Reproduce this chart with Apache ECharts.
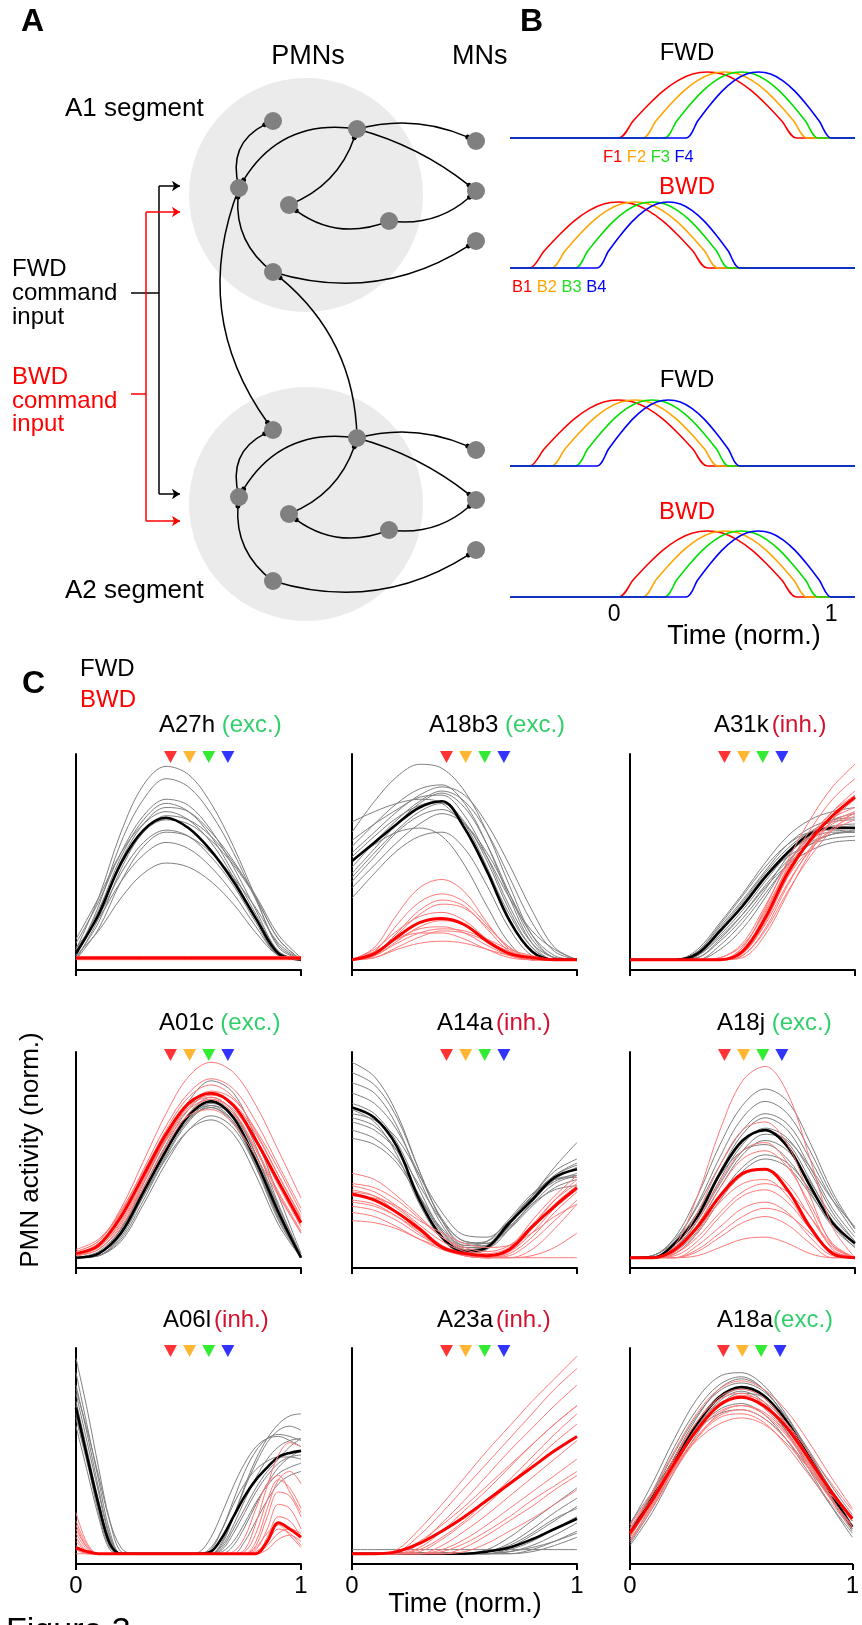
<!DOCTYPE html>
<html>
<head>
<meta charset="utf-8">
<title>Figure 3</title>
<script src="https://cdn.jsdelivr.net/npm/echarts@6/dist/echarts.min.js"></script>
<style>
  html, body { margin: 0; padding: 0; background: #fff; }
  #fig { width: 862px; height: 1625px; }
</style>
</head>
<body>
<div id="fig"></div>
<script>
// ---------- Panel A: circuit schematic (canvas pixel units) ----------
const segmentCentres = [[306, 195], [306, 504]];
const circuitNodes = [
  // A1 segment: PMNs p1..p6, then MNs m1..m3
  [273, 121], [357, 129], [239, 188], [289, 205], [389, 221], [273, 272], [476, 141], [476, 191], [476, 241],
  // A2 segment
  [273, 430], [357, 438], [239, 497], [289, 514], [389, 530], [273, 581], [476, 450], [476, 500], [476, 550]
];
// [source, target, curveness]
const circuitLinks = [
  [2, 0, 0.45], [1, 2, -0.35], [3, 1, -0.25], [4, 3, 0.3], [5, 2, 0.3], [1, 6, 0.19], [1, 7, 0.11], [4, 7, -0.25], [5, 8, -0.24],
  [11, 9, 0.45], [10, 11, -0.35], [12, 10, -0.25], [13, 12, 0.3], [14, 11, 0.3], [10, 15, 0.19], [10, 16, 0.11], [13, 16, -0.25], [14, 17, -0.24],
  [2, 9, -0.28], [10, 5, -0.24]
];
const fwdCommandPath = [[180, 186], [159, 186], [159, 494], [180, 494]];
const fwdCommandTap = [[131, 293], [159, 293]];
const bwdCommandPath = [[180, 212], [146, 212], [146, 521], [180, 521]];
const bwdCommandTap = [[131, 394], [146, 394]];

// ---------- Panel B: segmental activation waves ----------
const waveColors = ['#ff0000', '#ffa500', '#00e000', '#0000ff'];
const fwdOnset = [0.02, 0.13, 0.23, 0.33];
const fwdOffset = [0.84, 0.89, 0.94, 1.00];
const bwdOnset = [-0.39, -0.29, -0.18, -0.08];
const bwdOffset = [0.43, 0.48, 0.53, 0.58];
const bumpProfile = [0, 0.26, 0.5, 0.71, 0.87, 0.97, 1, 0.97, 0.87, 0.71, 0.5, 0.26, 0];
const waveTimeRange = [-0.48, 1.11];

// ---------- Panel C: PMN activity traces ----------
const timeCoarse = [0, 0.1, 0.2, 0.3, 0.4, 0.5, 0.6, 0.7, 0.8, 0.9, 1];
const timeFine = [0, 0.05, 0.1, 0.15, 0.2, 0.25, 0.3, 0.35, 0.4, 0.45, 0.5, 0.55, 0.6, 0.65, 0.7, 0.75, 0.8, 0.85, 0.9, 0.95, 1];
const panelNames = ['A27h', 'A18b3', 'A31k', 'A01c', 'A14a', 'A18j', 'A06l', 'A23a', 'A18a'];
const panelKinds = ['exc.', 'exc.', 'inh.', 'exc.', 'inh.', 'exc.', 'inh.', 'inh.', 'exc.'];
const markerTimes = [0.42, 0.505, 0.59, 0.675];
const markerColors = ['#ff0000', '#ffa500', '#00e600', '#0000ff'];

const a27hFwdMean = [.03, .22, .47, .63, .69, .64, .53, .38, .20, .03, 0];
const a27hFwd = [
  [.05, .30, .62, .85, .94, .90, .76, .55, .30, .06, 0],
  [.02, .26, .57, .78, .88, .84, .71, .52, .29, .07, 0],
  [.08, .28, .52, .70, .78, .75, .63, .45, .24, .04, 0],
  [0, .20, .48, .66, .74, .72, .62, .48, .30, .10, 0],
  [.10, .30, .52, .66, .72, .68, .57, .40, .20, .02, 0],
  [.03, .22, .46, .62, .70, .68, .60, .47, .31, .12, .01],
  [.05, .21, .42, .57, .63, .60, .50, .36, .18, .02, 0],
  [0, .15, .38, .55, .62, .60, .52, .40, .25, .08, 0],
  [.06, .20, .38, .51, .57, .54, .45, .32, .16, .02, 0],
  [.02, .14, .30, .42, .47, .45, .38, .27, .13, .02, 0],
  [.04, .24, .50, .68, .76, .72, .60, .42, .22, .04, 0],
  [.01, .18, .44, .62, .68, .66, .58, .46, .30, .10, 0]
];
const a27hBwdMean = [.008, .008, .008, .008, .008, .008, .008, .008, .008, .008, .008];
const a27hBwd = [
  [0, 0, 0, 0, 0, 0, 0, 0, 0, 0, 0],
  [.016, .016, .016, .016, .016, .016, .016, .016, .016, .016, .016]
];

const a18b3FwdMean = [.48, .57, .66, .74, .77, .64, .43, .19, .04, 0, 0];
const a18b3Fwd = [
  [.62, .77, .89, .95, .93, .82, .62, .36, .12, .01, 0],
  [.55, .66, .76, .83, .85, .76, .56, .30, .08, 0, 0],
  [.45, .57, .68, .77, .82, .77, .62, .40, .18, .04, 0],
  [.67, .72, .76, .78, .76, .64, .44, .22, .06, 0, 0],
  [.40, .52, .63, .72, .76, .67, .48, .24, .06, 0, 0],
  [.50, .60, .69, .75, .77, .66, .45, .20, .04, 0, 0],
  [.35, .46, .57, .66, .71, .66, .52, .32, .12, .02, 0],
  [.30, .42, .53, .60, .62, .54, .36, .15, .02, 0, 0],
  [.48, .56, .62, .64, .60, .46, .26, .08, 0, 0, 0],
  [.58, .66, .73, .79, .80, .70, .50, .26, .08, .01, 0],
  [.42, .54, .66, .76, .81, .74, .56, .32, .10, .01, 0],
  [.38, .50, .62, .70, .73, .66, .50, .30, .14, .05, 0],
  [.52, .62, .72, .80, .84, .80, .66, .46, .24, .06, 0]
];
const a18b3BwdMean = [0, .03, .11, .18, .20, .17, .09, .03, .01, 0, 0];
const a18b3Bwd = [
  [0, .06, .22, .35, .39, .33, .18, .05, 0, 0, 0],
  [0, .04, .17, .28, .32, .28, .17, .06, .01, 0, 0],
  [0, .02, .12, .22, .27, .25, .16, .06, 0, 0, 0],
  [0, .05, .14, .21, .23, .19, .10, .03, 0, 0, 0],
  [0, .02, .09, .16, .19, .17, .10, .03, 0, 0, 0],
  [0, .03, .10, .15, .16, .13, .07, .02, 0, 0, 0],
  [0, .01, .06, .11, .14, .13, .09, .04, .01, 0, 0],
  [0, .04, .10, .13, .13, .10, .05, .01, 0, 0, 0],
  [0, .01, .05, .08, .09, .08, .05, .02, 0, 0, 0],
  [0, .03, .13, .24, .29, .26, .15, .04, 0, 0, 0],
  [0, .02, .08, .13, .15, .14, .10, .05, .02, 0, 0]
];

const a31kFwdMean = [0, 0, 0, .03, .14, .26, .40, .52, .61, .64, .64];
const a31kFwd = [
  [0, 0, 0, .05, .18, .32, .47, .60, .68, .72, .74],
  [0, 0, 0, .04, .16, .29, .43, .56, .64, .68, .69],
  [0, 0, 0, .02, .12, .24, .38, .51, .60, .64, .65],
  [0, 0, 0, .01, .10, .22, .36, .48, .57, .61, .62],
  [0, 0, 0, .03, .15, .28, .42, .54, .62, .65, .66],
  [0, 0, 0, 0, .07, .18, .32, .46, .56, .61, .63],
  [0, 0, 0, .04, .17, .31, .45, .56, .62, .63, .62],
  [0, 0, 0, .02, .11, .22, .35, .46, .53, .57, .58],
  [0, 0, 0, 0, .05, .15, .30, .47, .60, .68, .71],
  [0, 0, 0, .03, .13, .27, .41, .52, .59, .62, .62],
  [0, 0, 0, .02, .14, .27, .40, .50, .56, .59, .60],
  [0, 0, 0, .01, .09, .20, .34, .50, .62, .67, .68]
];
const a31kBwdMean = [0, 0, 0, 0, 0, .04, .20, .42, .58, .70, .79];
const a31kBwd = [
  [0, 0, 0, 0, 0, .06, .25, .48, .68, .84, .95],
  [0, 0, 0, 0, 0, .05, .22, .45, .63, .78, .88],
  [0, 0, 0, 0, 0, .03, .18, .40, .58, .72, .82],
  [0, 0, 0, 0, .01, .08, .26, .46, .60, .69, .74],
  [0, 0, 0, 0, 0, .02, .15, .36, .54, .68, .78],
  [0, 0, 0, 0, 0, .04, .20, .41, .57, .67, .72],
  [0, 0, 0, 0, 0, .01, .12, .32, .52, .68, .80],
  [0, 0, 0, 0, 0, .05, .21, .40, .54, .63, .68],
  [0, 0, 0, 0, 0, .03, .17, .37, .53, .64, .70],
  [0, 0, 0, 0, 0, .06, .24, .44, .60, .72, .80],
  [0, 0, 0, 0, 0, .02, .14, .33, .50, .63, .72],
  [0, 0, 0, 0, .01, .07, .23, .43, .57, .66, .71]
];

const a01cFwdMean = [0, .02, .12, .32, .52, .69, .76, .68, .47, .22, 0];
const a01cFwd = [
  [0, .02, .14, .36, .58, .76, .86, .80, .58, .30, .02],
  [0, .01, .10, .30, .50, .67, .75, .70, .50, .24, 0],
  [0, .03, .14, .33, .52, .67, .73, .66, .46, .20, 0],
  [0, .01, .08, .26, .46, .62, .69, .63, .44, .20, 0],
  [0, .02, .13, .34, .55, .72, .80, .74, .54, .26, .01],
  [0, .02, .12, .30, .48, .62, .67, .60, .40, .16, 0],
  [0, .01, .11, .31, .52, .70, .78, .71, .50, .23, 0],
  [0, .02, .14, .34, .54, .69, .74, .66, .44, .18, 0],
  [0, .01, .09, .28, .49, .66, .74, .69, .50, .25, .01],
  [0, .02, .12, .32, .52, .68, .73, .65, .45, .19, 0]
];
const a01cBwdMean = [.02, .06, .20, .40, .60, .75, .80, .74, .57, .37, .17];
const a01cBwd = [
  [.03, .08, .24, .47, .70, .88, .95, .90, .74, .52, .29],
  [.02, .07, .22, .43, .64, .80, .87, .82, .66, .45, .24],
  [.02, .05, .18, .38, .58, .73, .79, .75, .60, .40, .20],
  [.01, .04, .15, .34, .54, .70, .77, .72, .56, .36, .16],
  [.03, .08, .23, .42, .61, .74, .78, .71, .53, .32, .13],
  [.01, .05, .17, .37, .57, .72, .77, .70, .52, .31, .12],
  [.02, .06, .20, .41, .62, .78, .84, .78, .61, .40, .19],
  [.04, .09, .22, .40, .57, .69, .72, .65, .49, .30, .12],
  [.01, .04, .16, .36, .57, .74, .81, .77, .62, .43, .22],
  [.02, .06, .19, .39, .59, .74, .80, .74, .56, .35, .15]
];

const a14aFwdMean = [.73, .68, .54, .28, .10, .03, .05, .17, .28, .39, .43];
const a14aFwd = [
  [.95, .88, .70, .42, .18, .06, .06, .16, .30, .44, .56],
  [.90, .84, .68, .42, .18, .07, .08, .18, .30, .40, .45],
  [.85, .80, .64, .38, .16, .05, .05, .14, .27, .38, .44],
  [.80, .75, .62, .40, .19, .08, .07, .15, .26, .36, .40],
  [.75, .70, .56, .33, .13, .04, .05, .16, .30, .42, .48],
  [.68, .64, .52, .30, .12, .04, .06, .18, .30, .38, .40],
  [.62, .58, .48, .30, .14, .06, .08, .19, .31, .38, .39],
  [.58, .55, .46, .29, .13, .05, .06, .15, .26, .33, .35],
  [.70, .67, .58, .40, .22, .11, .10, .18, .29, .37, .41],
  [.72, .66, .50, .26, .09, .02, .04, .16, .29, .40, .46],
  [.66, .62, .52, .35, .18, .08, .07, .14, .25, .34, .38]
];
const a14aBwdMean = [.31, .28, .22, .14, .05, .02, .01, .04, .15, .25, .34];
const a14aBwd = [
  [.41, .38, .30, .20, .10, .04, .02, .05, .15, .28, .38],
  [.36, .34, .28, .19, .10, .05, .03, .06, .16, .28, .36],
  [.33, .30, .22, .13, .05, .01, 0, .03, .14, .26, .35],
  [.30, .29, .25, .18, .12, .07, .05, .06, .12, .20, .26],
  [.28, .26, .20, .12, .05, .01, 0, .02, .10, .22, .32],
  [.25, .23, .18, .11, .05, .01, 0, 0, .04, .14, .26],
  [.22, .20, .15, .09, .04, .01, 0, .01, .08, .18, .28],
  [.18, .17, .14, .09, .05, .02, 0, 0, .01, .05, .12],
  [.32, .30, .24, .15, .06, .02, .01, .05, .18, .30, .40],
  [.27, .25, .20, .13, .06, .02, 0, 0, 0, 0, 0],
  [.35, .32, .25, .16, .08, .03, .01, .03, .12, .24, .33]
];

const a18jFwdMean = [0, 0, .07, .20, .41, .57, .62, .54, .35, .17, .07];
const a18jFwd = [
  [0, .01, .10, .30, .55, .74, .82, .76, .56, .32, .14],
  [0, 0, .08, .26, .49, .68, .76, .70, .52, .30, .14],
  [0, .01, .09, .25, .45, .62, .70, .65, .48, .28, .12],
  [0, 0, .05, .18, .38, .55, .63, .58, .42, .22, .08],
  [0, 0, .06, .20, .40, .56, .62, .56, .38, .18, .06],
  [0, 0, .04, .16, .34, .50, .57, .52, .37, .20, .08],
  [0, .01, .08, .22, .40, .52, .55, .48, .32, .15, .05],
  [0, 0, .03, .13, .30, .44, .50, .46, .33, .18, .07],
  [0, 0, .05, .18, .36, .52, .60, .57, .44, .28, .15],
  [0, 0, .07, .22, .42, .60, .68, .62, .44, .24, .10],
  [0, 0, .02, .12, .28, .42, .48, .44, .31, .16, .05]
];
const a18jBwdMean = [0, 0, .04, .15, .30, .41, .43, .33, .15, .02, 0];
const a18jBwd = [
  [0, 0, .06, .30, .62, .86, .93, .80, .48, .15, 0],
  [0, 0, .05, .22, .45, .62, .66, .55, .30, .06, 0],
  [0, 0, .04, .18, .37, .52, .56, .46, .24, .04, 0],
  [0, 0, .02, .12, .28, .40, .43, .36, .20, .05, 0],
  [0, 0, .03, .14, .27, .36, .38, .30, .14, .02, 0],
  [0, 0, .01, .08, .20, .30, .33, .27, .14, .03, 0],
  [0, 0, 0, .06, .15, .24, .27, .22, .10, .01, 0],
  [0, 0, 0, .03, .10, .17, .20, .16, .07, 0, 0],
  [0, 0, 0, .01, .05, .09, .10, .07, .02, 0, 0],
  [0, 0, .03, .16, .34, .48, .52, .44, .26, .07, 0],
  [0, 0, .02, .10, .22, .32, .36, .32, .20, .06, 0],
  [0, 0, 0, .04, .12, .20, .24, .21, .12, .03, 0]
];

const a06lFwdMean = [.71, .47, .24, .05, 0, 0, 0, 0, 0, 0, 0, 0, .01, .08, .18, .28, .36, .42, .47, .49, .50];
const a06lFwd = [
  [.95, .70, .42, .16, .01, 0, 0, 0, 0, 0, 0, 0, 0, .05, .18, .33, .46, .56, .63, .67, .68],
  [.88, .62, .36, .11, 0, 0, 0, 0, 0, 0, 0, 0, .02, .12, .26, .40, .50, .56, .58, .57, .55],
  [.82, .58, .32, .09, 0, 0, 0, 0, 0, 0, 0, 0, 0, .04, .14, .26, .37, .46, .52, .55, .56],
  [.78, .54, .30, .08, 0, 0, 0, 0, 0, 0, 0, .01, .08, .20, .33, .44, .52, .56, .57, .55, .52],
  [.74, .50, .26, .06, 0, 0, 0, 0, 0, 0, 0, 0, 0, .02, .10, .20, .30, .38, .44, .47, .48],
  [.70, .46, .23, .05, 0, 0, 0, 0, 0, 0, 0, 0, 0, 0, .04, .13, .24, .34, .42, .47, .50],
  [.66, .44, .22, .04, 0, 0, 0, 0, 0, 0, 0, 0, .03, .12, .24, .34, .41, .45, .47, .47, .46],
  [.62, .40, .18, .02, 0, 0, 0, 0, 0, 0, 0, 0, 0, .01, .06, .15, .25, .33, .39, .42, .44],
  [.80, .60, .38, .16, .03, 0, 0, 0, 0, 0, 0, 0, 0, .06, .18, .32, .44, .54, .60, .62, .60],
  [.72, .48, .25, .07, 0, 0, 0, 0, 0, 0, 0, 0, 0, .03, .12, .22, .32, .40, .46, .52, .56],
  [.68, .45, .20, .03, 0, 0, 0, 0, 0, 0, 0, 0, 0, 0, 0, .06, .16, .26, .34, .38, .40]
];
const a06lBwdMean = [.03, .01, 0, 0, 0, 0, 0, 0, 0, 0, 0, 0, 0, 0, 0, 0, 0, .06, .15, .12, .08];
const a06lBwd = [
  [.20, .05, 0, 0, 0, 0, 0, 0, 0, 0, 0, 0, 0, 0, 0, .02, .15, .33, .48, .54, .52],
  [.14, .03, 0, 0, 0, 0, 0, 0, 0, 0, 0, 0, 0, 0, 0, 0, .06, .22, .36, .40, .34],
  [.10, .02, 0, 0, 0, 0, 0, 0, 0, 0, 0, 0, 0, 0, 0, 0, .04, .18, .30, .28, .18],
  [.06, .01, 0, 0, 0, 0, 0, 0, 0, 0, 0, 0, 0, 0, 0, 0, .02, .12, .24, .22, .12],
  [.04, 0, 0, 0, 0, 0, 0, 0, 0, 0, 0, 0, 0, 0, 0, 0, 0, .08, .18, .16, .08],
  [.02, 0, 0, 0, 0, 0, 0, 0, 0, 0, 0, 0, 0, 0, 0, 0, .01, .06, .12, .10, .04],
  [.08, .01, 0, 0, 0, 0, 0, 0, 0, 0, 0, 0, 0, 0, 0, 0, 0, .04, .10, .12, .10],
  [0, 0, 0, 0, 0, 0, 0, 0, 0, 0, 0, 0, 0, 0, 0, 0, .03, .10, .14, .09, .03],
  [.12, .03, 0, 0, 0, 0, 0, 0, 0, 0, 0, 0, 0, 0, 0, .01, .10, .26, .36, .32, .22],
  [.03, 0, 0, 0, 0, 0, 0, 0, 0, 0, 0, 0, 0, 0, 0, 0, 0, .02, .07, .09, .06],
  [.16, .04, 0, 0, 0, 0, 0, 0, 0, 0, 0, 0, 0, 0, .01, .08, .22, .34, .38, .30, .20]
];

const a23aFwdMean = [0, 0, 0, 0, 0, 0, .01, .03, .07, .12, .17];
const a23aFwd = [
  [.02, .02, .02, .02, .02, .02, .02, .02, .02, .02, .02],
  [0, 0, 0, 0, 0, 0, .02, .08, .16, .24, .32],
  [0, 0, 0, 0, 0, 0, .01, .05, .12, .20, .27],
  [0, 0, 0, 0, 0, 0, 0, .03, .09, .16, .23],
  [0, 0, 0, 0, 0, 0, 0, .02, .06, .12, .18],
  [0, 0, 0, 0, 0, 0, 0, .01, .04, .09, .15],
  [0, 0, 0, 0, 0, 0, 0, 0, .02, .06, .11],
  [0, 0, 0, 0, 0, 0, 0, 0, .01, .04, .08],
  [0, 0, 0, 0, 0, 0, .01, .04, .10, .17, .22],
  [0, 0, 0, 0, 0, 0, 0, .01, .03, .06, .10]
];
const a23aBwdMean = [0, 0, .01, .05, .11, .18, .26, .34, .42, .50, .57];
const a23aBwd = [
  [0, 0, .02, .12, .24, .37, .50, .62, .74, .85, .96],
  [0, 0, .01, .09, .20, .32, .44, .56, .68, .80, .90],
  [0, 0, 0, .05, .15, .26, .38, .50, .61, .72, .82],
  [0, 0, 0, .03, .11, .21, .31, .42, .53, .63, .72],
  [0, 0, 0, .01, .07, .15, .24, .34, .44, .54, .63],
  [0, 0, 0, 0, .04, .11, .19, .28, .37, .46, .55],
  [0, 0, 0, 0, .02, .07, .14, .22, .30, .38, .46],
  [0, 0, 0, 0, 0, .03, .09, .16, .23, .31, .38],
  [0, 0, 0, 0, 0, .01, .05, .11, .17, .24, .31],
  [0, 0, .01, .06, .14, .23, .33, .43, .53, .63, .72],
  [0, 0, 0, .02, .08, .16, .26, .36, .47, .58, .68],
  [0, 0, 0, 0, .01, .05, .11, .18, .26, .33, .40]
];

const a18aFwdMean = [.10, .27, .46, .63, .76, .81, .77, .65, .48, .30, .13];
const a18aFwd = [
  [.14, .34, .56, .75, .86, .88, .82, .68, .50, .32, .16],
  [.10, .30, .52, .70, .82, .86, .80, .66, .46, .27, .11],
  [.06, .24, .44, .62, .75, .80, .76, .63, .46, .28, .12],
  [.12, .28, .46, .62, .73, .76, .72, .60, .44, .28, .14],
  [.04, .20, .40, .58, .72, .78, .76, .66, .50, .32, .16],
  [.10, .26, .44, .60, .70, .73, .68, .56, .40, .24, .10],
  [.08, .26, .47, .66, .80, .85, .80, .66, .47, .28, .12],
  [.15, .30, .46, .60, .68, .70, .66, .56, .42, .28, .16],
  [.05, .22, .42, .61, .74, .79, .74, .60, .42, .24, .08],
  [.11, .29, .49, .67, .79, .83, .79, .67, .51, .34, .19]
];
const a18aBwdMean = [.10, .26, .44, .60, .72, .76, .72, .62, .47, .31, .17];
const a18aBwd = [
  [.12, .30, .50, .68, .80, .84, .80, .70, .55, .38, .22],
  [.08, .26, .46, .64, .76, .80, .76, .64, .48, .31, .16],
  [.14, .29, .45, .59, .69, .72, .68, .58, .44, .30, .18],
  [.06, .22, .40, .56, .68, .72, .69, .59, .45, .30, .16],
  [.10, .25, .42, .57, .67, .70, .66, .56, .42, .27, .14],
  [.09, .27, .47, .64, .75, .78, .73, .61, .45, .28, .13],
  [.13, .27, .42, .55, .63, .66, .63, .54, .42, .29, .18],
  [.07, .23, .42, .60, .72, .77, .74, .64, .50, .35, .21],
  [.11, .25, .41, .56, .66, .68, .64, .53, .39, .25, .12],
  [.09, .24, .43, .61, .73, .76, .71, .59, .43, .27, .13]
];

const panelTimes = [timeCoarse, timeCoarse, timeCoarse, timeCoarse, timeCoarse, timeCoarse, timeFine, timeCoarse, timeCoarse];
const panelFwd = [a27hFwd, a18b3Fwd, a31kFwd, a01cFwd, a14aFwd, a18jFwd, a06lFwd, a23aFwd, a18aFwd];
const panelFwdMean = [a27hFwdMean, a18b3FwdMean, a31kFwdMean, a01cFwdMean, a14aFwdMean, a18jFwdMean, a06lFwdMean, a23aFwdMean, a18aFwdMean];
const panelBwd = [a27hBwd, a18b3Bwd, a31kBwd, a01cBwd, a14aBwd, a18jBwd, a06lBwd, a23aBwd, a18aBwd];
const panelBwdMean = [a27hBwdMean, a18b3BwdMean, a31kBwdMean, a01cBwdMean, a14aBwdMean, a18jBwdMean, a06lBwdMean, a23aBwdMean, a18aBwdMean];

// ---------- chart construction ----------
const FONT = "'Liberation Sans', Arial, Helvetica, sans-serif";
const chart = echarts.init(document.getElementById('fig'), null, { renderer: 'canvas', width: 862, height: 1625 });
const grid = [], xAxis = [], yAxis = [], series = [], graphic = [];

// grid 0: schematic canvas in pixel units
grid.push({ left: 0, top: 0, width: 862, height: 1625 });
xAxis.push({ gridIndex: 0, type: 'value', min: 0, max: 862, show: false });
yAxis.push({ gridIndex: 0, type: 'value', min: 0, max: 1625, inverse: true, show: false });

series.push({
  type: 'scatter', xAxisIndex: 0, yAxisIndex: 0, data: segmentCentres, symbolSize: 234,
  itemStyle: { color: '#e6e6e6' }, silent: true, clip: false, z: 1
});

function commandSeries(path, tap, color) {
  const last = path.length - 1;
  const arrows = [{ coords: [path[1], path[0]] }, { coords: [path[last - 1], path[last]] }];
  const stems = [{ coords: tap }];
  for (let i = 1; i < last - 1; i++) stems.push({ coords: [path[i], path[i + 1]] });
  const base = {
    type: 'lines', coordinateSystem: 'cartesian2d', xAxisIndex: 0, yAxisIndex: 0, silent: true, z: 2,
    lineStyle: { color: color, width: 1.5, opacity: 1, curveness: 0 }
  };
  return [
    Object.assign({}, base, { data: stems, symbol: 'none' }),
    Object.assign({}, base, { data: arrows, symbol: ['none', 'arrow'], symbolSize: 8 })
  ];
}
series.push(...commandSeries(fwdCommandPath, fwdCommandTap, '#000000'));
series.push(...commandSeries(bwdCommandPath, bwdCommandTap, '#ff0000'));

series.push({
  type: 'graph', layout: 'none', coordinateSystem: 'cartesian2d', xAxisIndex: 0, yAxisIndex: 0,
  silent: true, z: 3, symbol: 'circle', symbolSize: 18,
  itemStyle: { color: '#808080' },
  lineStyle: { color: '#000', width: 1.5, opacity: 1 },
  edgeSymbol: ['none', 'circle'], edgeSymbolSize: 5,
  label: { show: false },
  data: circuitNodes.map(p => ({ value: p })),
  links: circuitLinks.map(([s, t, c]) => ({ source: s, target: t, lineStyle: { curveness: c } }))
});

// Panel B wave plots
const waveTops = [72, 202, 400, 531];
const waveTiming = [[fwdOnset, fwdOffset], [bwdOnset, bwdOffset], [bwdOnset, bwdOffset], [fwdOnset, fwdOffset]];
waveTops.forEach((top, p) => {
  const gi = grid.length;
  grid.push({ left: 510, top: top, width: 345, height: 66 });
  xAxis.push({
    gridIndex: gi, type: 'value', min: waveTimeRange[0], max: waveTimeRange[1],
    axisLine: { show: false }, axisTick: { show: false }, splitLine: { show: false },
    axisLabel: p === 3
      ? { show: true, customValues: [0, 1], fontSize: 23, color: '#000', fontFamily: FONT, margin: 6 }
      : { show: false }
  });
  yAxis.push({ gridIndex: gi, type: 'value', min: 0, max: 1, show: false });
  const [onset, offset] = waveTiming[p];
  for (let k = 0; k < 4; k++) {
    const n = bumpProfile.length - 1;
    const pts = [[waveTimeRange[0], 0]]
      .concat(bumpProfile.map((v, j) => [onset[k] + (offset[k] - onset[k]) * j / n, v]))
      .concat([[waveTimeRange[1], 0]]);
    series.push({
      type: 'line', xAxisIndex: gi, yAxisIndex: gi, data: pts, symbol: 'none', smooth: 0.3,
      clip: false, silent: true, z: 2 + k, lineStyle: { color: waveColors[k], width: 1.6 }
    });
  }
});

// Panel C traces
const colLeft = [76, 352, 630];
const rowTop = [754, 1052, 1348];
function traceLines(gi, times, traces, color, width, z) {
  return traces.map(tr => ({
    type: 'line', xAxisIndex: gi, yAxisIndex: gi, symbol: 'none', smooth: 0.35, silent: true, z: z,
    data: tr.map((v, k) => [times[k], v]), lineStyle: { color: color, width: width }
  }));
}
panelNames.forEach((name, i) => {
  const r = Math.floor(i / 3), c = i % 3;
  const gi = grid.length;
  grid.push({ left: colLeft[c], top: rowTop[r], width: 225, height: 216 });
  xAxis.push({
    gridIndex: gi, type: 'value', min: 0, max: 1, interval: 1,
    axisLine: { onZero: false, lineStyle: { color: '#000', width: 2 } },
    axisTick: { show: true, length: 6, lineStyle: { color: '#000', width: 2 } },
    splitLine: { show: false },
    axisLabel: { show: r === 2, fontSize: 24, color: '#000', fontFamily: FONT, margin: 10, showMinLabel: true, showMaxLabel: true }
  });
  yAxis.push({
    gridIndex: gi, type: 'value', min: -0.05, max: 1,
    axisLine: { show: true, onZero: false, lineStyle: { color: '#000', width: 2 } },
    axisTick: { show: false }, axisLabel: { show: false }, splitLine: { show: false }
  });
  const t = panelTimes[i];
  series.push(...traceLines(gi, t, panelFwd[i], '#7f7f7f', 1, 2));
  series.push(...traceLines(gi, t, [panelFwdMean[i]], '#000000', 2.6, 3));
  series.push(...traceLines(gi, t, panelBwd[i], '#ff7878', 1, 4));
  series.push(...traceLines(gi, t, [panelBwdMean[i]], '#ff0000', 3, 5));
  series.push({
    type: 'scatter', xAxisIndex: gi, yAxisIndex: gi, symbol: 'triangle', symbolRotate: 180,
    symbolSize: [13, 12], clip: false, silent: true, z: 10,
    data: markerTimes.map((m, k) => ({ value: [m, 0.985], itemStyle: { color: markerColors[k] } }))
  });
});

// ---------- text ----------
function label(x, y, text, size, opts) {
  opts = opts || {};
  return {
    type: 'text', x: x, y: y, rotation: opts.rotation || 0, silent: true, z: 100,
    style: {
      text: text, font: (opts.bold ? 'bold ' : '') + size + 'px ' + FONT, fill: opts.color || '#000',
      align: opts.align || 'left', verticalAlign: 'middle', rich: opts.rich
    }
  };
}
const RED = '#ff0000';
graphic.push(
  label(21, 22, 'A', 32, { bold: true }),
  label(308, 57, 'PMNs', 27, { align: 'center' }),
  label(452, 57, 'MNs', 27),
  label(65, 109, 'A1 segment', 26),
  label(65, 591, 'A2 segment', 26),
  label(12, 269, 'FWD', 24), label(12, 293, 'command', 24), label(12, 317, 'input', 24),
  label(12, 377, 'BWD', 24, { color: RED }), label(12, 401, 'command', 24, { color: RED }), label(12, 424, 'input', 24, { color: RED }),
  label(520, 22, 'B', 32, { bold: true }),
  label(687, 53, 'FWD', 24, { align: 'center' }),
  label(687, 187, 'BWD', 24, { align: 'center', color: RED }),
  label(687, 380, 'FWD', 24, { align: 'center' }),
  label(687, 512, 'BWD', 24, { align: 'center', color: RED }),
  label(744, 637, 'Time (norm.)', 27, { align: 'center' }),
  label(22, 684, 'C', 32, { bold: true }),
  label(80, 669, 'FWD', 24),
  label(80, 700, 'BWD', 24, { color: RED }),
  label(31, 1150, 'PMN activity (norm.)', 26, { align: 'center', rotation: Math.PI / 2 }),
  label(465, 1605, 'Time (norm.)', 27, { align: 'center' }),
  label(6, 1632, 'Figure 3', 34)
);
const waveLabelRich = {};
['r', 'o', 'g', 'b'].forEach((key, k) => {
  waveLabelRich[key] = { fill: waveColors[k] === '#00e000' ? '#22dd22' : waveColors[k], font: '16.5px ' + FONT };
});
graphic.push(
  label(603, 157, '{r|F1} {o|F2} {g|F3} {b|F4}', 16.5, { rich: waveLabelRich }),
  label(512, 287, '{r|B1} {o|B2} {g|B3} {b|B4}', 16.5, { rich: waveLabelRich })
);
const titleLeft = [159, 429, 714, 159, 437, 717, 163, 437, 717];
const titleY = [725, 1023, 1320];
// separator between neuron name and its sign: normal space, thin gap, or none
const titleGapKey = ['w', 'w', 's', 'w', 's', 'w', 's', 's', ''];
const titleRich = {
  n: { fill: '#000', font: '24px ' + FONT },
  e: { fill: '#2fcf6a', font: '24px ' + FONT },
  i: { fill: '#d2122e', font: '24px ' + FONT },
  w: { fill: '#000', font: '24px ' + FONT },
  s: { fill: '#000', font: '11px ' + FONT }
};
panelNames.forEach((name, i) => {
  const kindKey = panelKinds[i] === 'exc.' ? 'e' : 'i';
  const gap = titleGapKey[i] ? '{' + titleGapKey[i] + '| }' : '';
  const txt = '{n|' + name + '}' + gap + '{' + kindKey + '|(' + panelKinds[i] + ')}';
  graphic.push(label(titleLeft[i], titleY[Math.floor(i / 3)], txt, 24, { rich: titleRich }));
});

chart.setOption({
  animation: false,
  backgroundColor: '#ffffff',
  grid: grid, xAxis: xAxis, yAxis: yAxis, series: series, graphic: graphic
});
</script>
</body>
</html>
